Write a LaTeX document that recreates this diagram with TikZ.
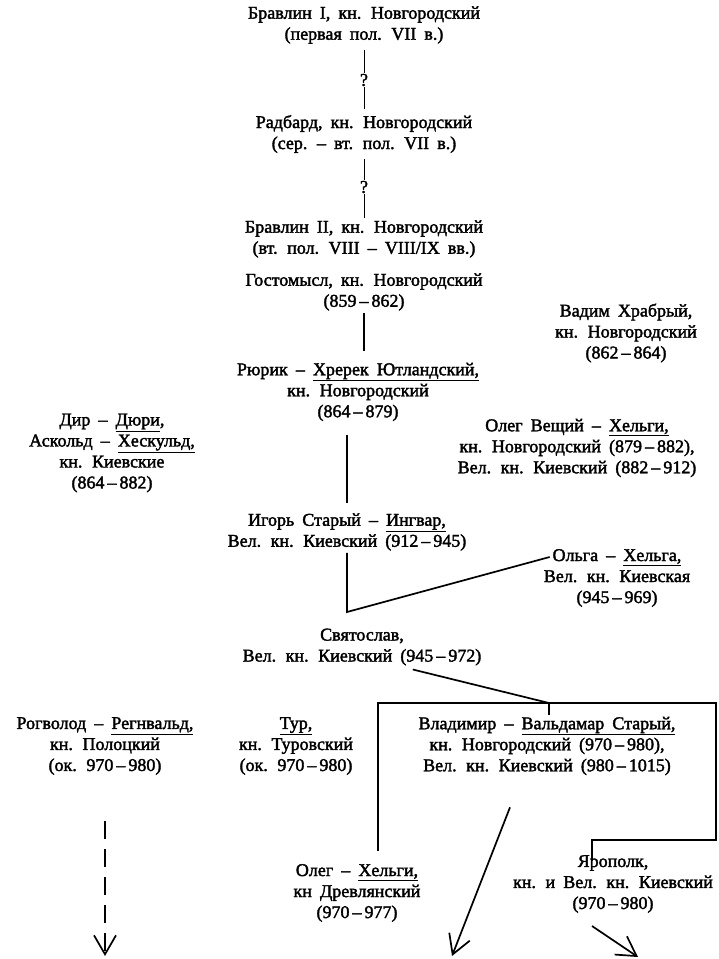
\documentclass[tikz,border=0pt]{standalone}
\usepackage{fontspec}
\setmainfont{Liberation Serif}[WordSpace=1.8, FakeBold=2]
\usetikzlibrary{arrows.meta}
\tikzset{
    prince/.style={align=center, inner sep=2pt, font=\fontsize{18}{21}\selectfont},
    query/.style={inner sep=1pt, font=\fontsize{18}{21}\selectfont},
    lineage/.style={draw=black, line width=.6mm},
    uncertain/.style={draw=black, line width=.35mm},
    descent/.style={draw=black, line width=.6mm,
        -{Straight Barb[length=19pt,width=22pt,line width=.6mm]}},
    descentdashed/.style={descent, dash pattern=on 18pt off 10pt},
}

\begin{document}
\begin{tikzpicture}[x=1pt, y=-1pt]
\useasboundingbox (0,0) rectangle (719,959);

		% Novgorod, before Rurik
		\node[prince] (bravlina) at (364,25) {Бравлин I, кн. Новгородский\\(первая пол. VII в.)};
		\node[query] (qa) at (364,80) {?};
		\node[prince] (radbard) at (364,134) {Радбард, кн. Новгородский\\(сер. – вт. пол. VII в.)};
		\node[query] (qb) at (364,187) {?};
		\node[prince] (bravlinb) at (364,239) {Бравлин II, кн. Новгородский\\(вт. пол. VIII – VIII/IX вв.)};
		\node[prince] (gostomysl) at (364,292) {Гостомысл, кн. Новгородский\\(859\,–\,862)};
		\node[prince] (vadim) at (626,333) {Вадим Храбрый,\\кн. Новгородский\\(862\,–\,864)};

		\draw[uncertain, shorten <=4pt] (bravlina) -- (qa);
		\draw[uncertain, shorten >=4pt] (qa) -- (radbard);
		\draw[uncertain, shorten <=4pt] (radbard) -- (qb);
		\draw[uncertain] (qb) -- (bravlinb);

		% Rurik and Kiev
		\node[prince] (rurik) at (358,392) {Рюрик – \underline{Хререк Ютландский,}\\кн. Новгородский\\(864\,–\,879)};
		\node[prince] (dir) at (112,453) {Дир – \underline{Дюри},\\Аскольд – \underline{Хескульд,}\\кн. Киевские\\(864\,–\,882)};
		\node[prince] (oleg) at (577,448) {Олег Вещий – \underline{Хельги,}\\кн. Новгородский (879\,–\,882),\\Вел. кн. Киевский (882\,–\,912)};
		\node[prince] (igor) at (347,532) {Игорь Старый – \underline{Ингвар,}\\Вел. кн. Киевский (912\,–\,945)};
		\node[prince] (olga) at (617,578) {Ольга – \underline{Хельга,}\\Вел. кн. Киевская\\(945\,–\,969)};
		\node[prince] (sviatoslav) at (362,647) {Святослав,\\Вел. кн. Киевский (945\,–\,972)};

		\draw[lineage, shorten >=10pt] (gostomysl.south) -- (gostomysl.south |- rurik.north);
		\draw[lineage, shorten <=12pt, shorten >=8pt] (igor.north |- rurik.south) -- (igor.north);
		\coordinate (igorbend) at (347,612);
		\draw[lineage] (igor.south) -- (igorbend) -- ([xshift=8pt,yshift=21pt]olga.west);

		% sons of Sviatoslav
		\node[prince] (rogvolod) at (105,746) {Рогволод – \underline{Регнвальд,}\\кн. Полоцкий\\(ок. 970\,–\,980)};
		\node[prince] (tur) at (296,746) {\underline{Тур,}\\кн. Туровский\\(ок. 970\,–\,980)};
		\node[prince] (vladimir) at (547,746) {Владимир – \underline{Вальдамар Старый,}\\кн. Новгородский (970\,–\,980),\\Вел. кн. Киевский (980\,–\,1015)};
		\node[prince] (olegdr) at (357,893) {Олег – \underline{Хельги,}\\кн Древлянский\\(970\,–\,977)};
		\node[prince] (yaropolk) at (613,884) {Ярополк,\\кн. и Вел. кн. Киевский\\(970\,–\,980)};

		\coordinate (vjoin) at (549,703);
		\coordinate (boxnw) at (378,703);
		\coordinate (boxne) at (716,703);
		\coordinate (boxse) at (716,840);
		\coordinate (yarknee) at (592,840);
		\draw[lineage, shorten <=8pt] ([xshift=43pt]sviatoslav.south) -- (vjoin);
		\draw[lineage] (vjoin) -- (vjoin |- vladimir.north);
		\draw[lineage, shorten <=11pt] (olegdr.north -| boxnw) -- (boxnw) -- (boxne) -- (boxse) -- (yarknee) -- ([yshift=-8pt]yarknee |- yaropolk.north);

		% later lines
		\coordinate (rogvolodend) at (105,956);
		\coordinate (vladimirend) at (452,956);
		\coordinate (yaropolkend) at (638,957);
		\draw[descentdashed] ([yshift=-44pt]rogvolod.south) -- (rogvolodend);
		\draw[descent] ([xshift=-37pt,yshift=-30pt]vladimir.south) -- (vladimirend);
		\draw[descent] ([xshift=-21pt,yshift=-11pt]yaropolk.south) -- (yaropolkend);
\end{tikzpicture}
\end{document}
